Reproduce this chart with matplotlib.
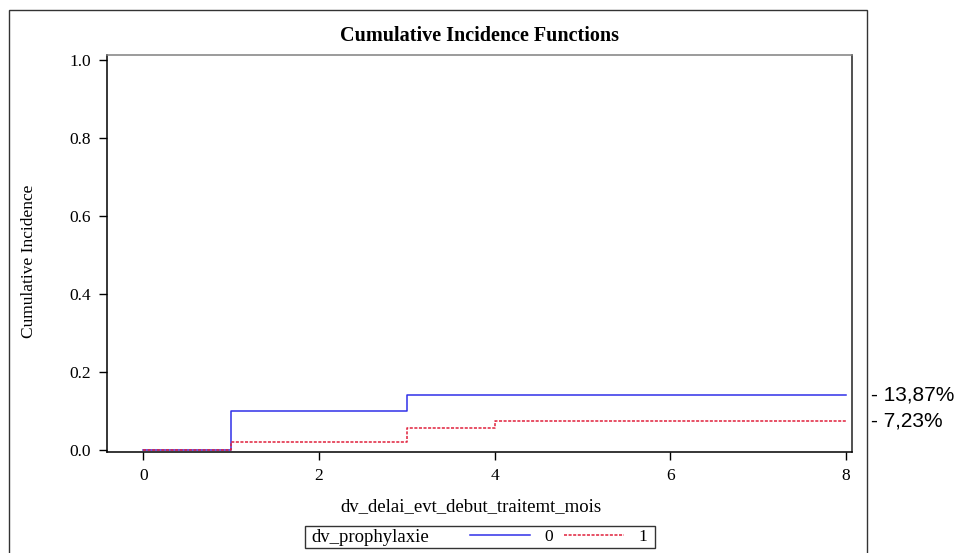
import matplotlib
matplotlib.use("Agg")
import matplotlib.pyplot as plt
from matplotlib.lines import Line2D
from matplotlib.patches import Rectangle
from matplotlib.transforms import blended_transform_factory

# cumulative incidence step values by group
times_0 = [0, 1, 3, 8]
cif_0 = [0.0, 0.1000, 0.1387, 0.1387]
times_1 = [0, 1, 3, 4, 8]
cif_1 = [0.0, 0.0190, 0.0540, 0.0723, 0.0723]
groups = ["0", "1"]

x_ticks = [0, 2, 4, 6, 8]
y_ticks = [0.0, 0.2, 0.4, 0.6, 0.8, 1.0]

plt.rcParams["font.family"] = ["Liberation Serif", "DejaVu Serif"]

W, H = 960, 553
fig = plt.figure(figsize=(W / 100, H / 100), dpi=100)
ax = fig.add_axes([107 / W, 1 - 452 / H, 745 / W, 397 / H])

blue = "#3030e8"
red = "#e0203c"
ax.step(times_0, cif_0, where="post", color=blue, lw=1.1)
ax.step(times_1, cif_1, where="post", color=red, lw=1.1, linestyle=(0, (2, 1)))

ax.set_xlim(-0.413, 8.07)
ax.set_ylim(-0.0064, 1.0128)
ax.set_xticks(x_ticks)
ax.set_xticklabels([str(t) for t in x_ticks])
ax.set_yticks(y_ticks)
ax.set_yticklabels([f"{t:.1f}" for t in y_ticks])
ax.tick_params(direction="out", length=5.8, width=1, pad=6, labelsize=12.5)

for side in ["left", "bottom"]:
    ax.spines[side].set_color("black")
    ax.spines[side].set_linewidth(1.1)
for side in ["top", "right"]:
    ax.spines[side].set_linewidth(1.1)
ax.spines["top"].set_color("#808080")
ax.spines["right"].set_color("#222222")

ax.set_title("Cumulative Incidence Functions", fontsize=14.5, fontweight="bold", pad=10)
ax.set_ylabel("Cumulative Incidence", fontsize=12.5)
ax.yaxis.set_label_coords(-0.094, 0.48)
ax.set_xlabel("dv_delai_evt_debut_traitemt_mois", fontsize=13.5)
ax.xaxis.set_label_coords(0.488, -0.115)

# end-value labels on the right
trans = blended_transform_factory(fig.transFigure, ax.transData)
for v in [cif_0[-1], cif_1[-1]]:
    lab = "- " + f"{v * 100:.2f}".replace(".", ",") + "%"
    ax.text(871 / W, v, lab, transform=trans, ha="left", va="center",
            fontsize=15, family=["Liberation Sans", "DejaVu Sans"], clip_on=False)

# outer frame
fig.add_artist(Rectangle((9 / W, -0.05), 857.5 / W, 1.05 - 10 / H, transform=fig.transFigure,
                         fill=False, edgecolor="#333333", lw=1.0))

# legend box
fig.add_artist(Rectangle((305 / W, 1 - 548 / H), 350 / W, 22 / H, transform=fig.transFigure,
                         fill=False, edgecolor="#333333", lw=1.0))
fig.text(311 / W, 1 - 537 / H, "dv_prophylaxie", fontsize=13.5, va="center", ha="left")
handles = [Line2D([], [], color=blue, lw=1.1),
           Line2D([], [], color=red, lw=1.1, linestyle=(0, (2, 1)))]
fig.legend(handles, groups, loc="center left", bbox_to_anchor=(470 / W, 1 - 537 / H),
           ncol=2, frameon=False, fontsize=12.5, borderpad=0, borderaxespad=0,
           handlelength=3.45, handletextpad=0.85, columnspacing=0.6)

fig.savefig("out.png", dpi=100)
